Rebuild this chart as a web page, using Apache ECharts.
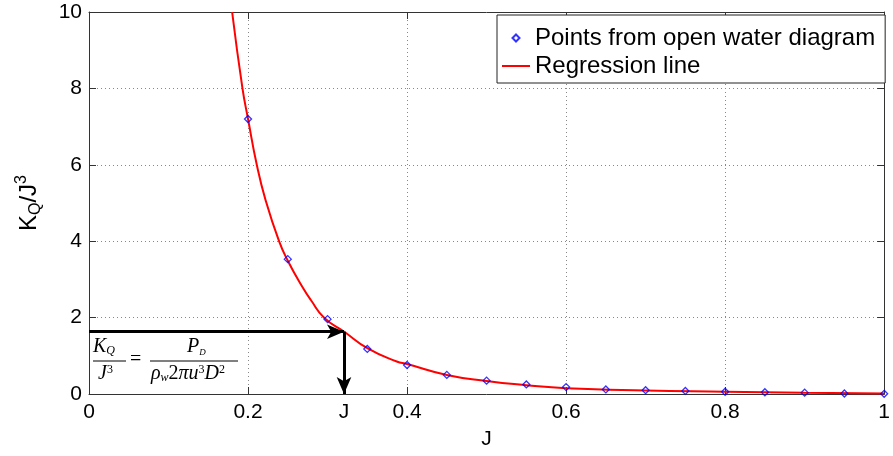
<!DOCTYPE html>
<html>
<head>
<meta charset="utf-8">
<script src="https://cdn.jsdelivr.net/npm/echarts@6/dist/echarts.min.js"></script>
<style>
html,body{margin:0;padding:0;background:#fff;}
#c{width:893px;height:456px;}
</style>
</head>
<body>
<div id="c"></div>
<script>
// ---- data ----
const jPoints = [0.20,0.25,0.30,0.35,0.40,0.45,0.50,0.55,0.60,0.65,0.70,0.75,0.80,0.85,0.90,0.95,1.00];
const kqPoints = [7.20,3.53,1.96,1.18,0.76,0.50,0.35,0.25,0.18,0.12,0.10,0.08,0.06,0.045,0.035,0.012,0.005];
const jLine = [0.180,0.193,0.200,0.211,0.222,0.239,0.250,0.269,0.279,0.296,0.321,0.350,0.387,0.400,0.450,0.500,0.550,0.600,0.700,0.800,0.900,1.000];
const kqLine = [10.0,8.0,7.2,6.0,5.08,4.0,3.49,2.78,2.46,1.99,1.63,1.20,0.85,0.785,0.50,0.34,0.23,0.15,0.09,0.06,0.03,0.01];
const arrowPoint = [0.3207, 1.63];
const xTicks = [0, 1, 0.2];   // min, max, interval
const yTicks = [0, 10, 2];
const seriesNames = ['Points from open water diagram', 'Regression line'];

const FONT = "'Liberation Sans', Arial, Helvetica, sans-serif";
const SERIF = "'Liberation Serif', 'DejaVu Serif', serif";

const chart = echarts.init(document.getElementById('c'), null, {renderer: 'canvas'});

const axisLineStyle = {color: '#333', width: 1};
const grid = {left: 89, right: 2, top: 12, bottom: 62, containLabel: false};

const option = {
  backgroundColor: '#fff',
  animation: false,
  grid: grid,
  legend: {
    data: [
      {name: seriesNames[0], icon: 'path://M0,-1L1,0L0,1L-1,0Z'},
      {name: seriesNames[1], icon: 'path://M0,0L28,0L28,2L0,2Z'}
    ],
    orient: 'vertical',
    left: 497,
    top: 15,
    itemWidth: 28,
    itemHeight: 7,
    itemGap: 0,
    symbolKeepAspect: true,
    padding: [9, 10, 3, 5],
    borderColor: '#222',
    borderWidth: 1,
    backgroundColor: '#fff',
    textStyle: {fontFamily: FONT, fontSize: 24, color: '#000', lineHeight: 28},
    selectedMode: false
  },
  xAxis: [{
    type: 'value', min: xTicks[0], max: xTicks[1], interval: xTicks[2],
    name: 'J', nameLocation: 'middle', nameGap: 35,
    nameTextStyle: {fontFamily: FONT, fontSize: 21, color: '#000'},
    axisLine: {show: true, lineStyle: axisLineStyle},
    axisTick: {show: true, inside: true, length: 7, lineStyle: axisLineStyle},
    axisLabel: {fontFamily: FONT, fontSize: 21, color: '#000', margin: 8, showMaxLabel: true},
    splitLine: {show: true, lineStyle: {color: '#888', type: [1, 3], width: 1}}
  }, {
    type: 'value', position: 'top', min: xTicks[0], max: xTicks[1], interval: xTicks[2],
    axisLine: {show: true, onZero: false, lineStyle: axisLineStyle},
    axisTick: {show: true, inside: true, length: 7, lineStyle: axisLineStyle},
    axisLabel: {show: false}, splitLine: {show: false}
  }],
  yAxis: [{
    type: 'value', min: yTicks[0], max: yTicks[1], interval: yTicks[2],
    name: '{b|K}{s|Q}{b|/J}{p|3}', nameLocation: 'middle', nameGap: 45, nameRotate: 90,
    nameTextStyle: {
      fontFamily: FONT, fontSize: 24, color: '#000',
      rich: {
        b: {fontFamily: FONT, fontSize: 24, lineHeight: 30, color: '#000', verticalAlign: 'middle'},
        s: {fontFamily: FONT, fontSize: 16, lineHeight: 16, color: '#000', verticalAlign: 'bottom'},
        p: {fontFamily: FONT, fontSize: 16, lineHeight: 16, color: '#000', verticalAlign: 'top'}
      }
    },
    axisLine: {show: true, onZero: false, lineStyle: axisLineStyle},
    axisTick: {show: true, inside: true, length: 7, lineStyle: axisLineStyle},
    axisLabel: {fontFamily: FONT, fontSize: 21, color: '#000', margin: 7},
    splitLine: {show: true, lineStyle: {color: '#888', type: [1, 3], width: 1}}
  }, {
    type: 'value', position: 'right', min: yTicks[0], max: yTicks[1], interval: yTicks[2],
    axisLine: {show: true, onZero: false, lineStyle: axisLineStyle},
    axisTick: {show: true, inside: true, length: 7, lineStyle: axisLineStyle},
    axisLabel: {show: false}, splitLine: {show: false}
  }],
  series: [{
    name: seriesNames[1],
    type: 'line',
    data: jLine.map((j, i) => [j, kqLine[i]]),
    smooth: 0.5,
    showSymbol: false,
    symbol: 'none',
    lineStyle: {color: '#ff0000', width: 2},
    itemStyle: {color: '#ff0000'},
    z: 2,
    markLine: {
      silent: true,
      symbol: ['none', 'arrow'],
      symbolSize: [11, 17],
      lineStyle: {color: '#000', width: 3, type: 'solid'},
      label: {show: false},
      emphasis: {disabled: true},
      data: [
        [{coord: [0, arrowPoint[1]]}, {coord: [arrowPoint[0], arrowPoint[1]]}],
        [{coord: [arrowPoint[0], arrowPoint[1]],
          label: {show: true, formatter: 'J', position: 'end', distance: 8,
                  fontFamily: FONT, fontSize: 21, color: '#000'}},
         {coord: [arrowPoint[0], 0]}]
      ]
    }
  }, {
    name: seriesNames[0],
    type: 'scatter',
    data: jPoints.map((j, i) => [j, kqPoints[i]]),
    symbol: 'diamond',
    symbolSize: 7,
    itemStyle: {color: 'rgba(255,255,255,0)', borderColor: '#0000ff', borderWidth: 1.3},
    z: 3
  }],
  graphic: [
    // formula annotation  K_Q / J^3 = P_D / (rho_w 2 pi u^3 D^2)
    {type: 'text', left: 93, top: 337, style: {
      text: '{i|K}{s|Q}',
      rich: {i: {fontFamily: SERIF, fontStyle: 'italic', fontSize: 20, lineHeight: 20, verticalAlign: 'middle'},
             s: {fontFamily: SERIF, fontStyle: 'italic', fontSize: 12, lineHeight: 12, verticalAlign: 'bottom'}},
      fill: '#000'}},
    {type: 'line', shape: {x1: 93, y1: 361, x2: 126, y2: 361}, style: {stroke: '#000', lineWidth: 1}},
    {type: 'text', left: 98, top: 364, style: {
      text: '{i|J}{p|3}',
      rich: {i: {fontFamily: SERIF, fontStyle: 'italic', fontSize: 20, lineHeight: 20, verticalAlign: 'middle'},
             p: {fontFamily: SERIF, fontSize: 12, lineHeight: 12, verticalAlign: 'top'}},
      fill: '#000'}},
    {type: 'text', left: 130, top: 350, style: {text: '=', font: '20px ' + SERIF, fill: '#000'}},
    {type: 'text', left: 187, top: 337, style: {
      text: '{i|P}{s|D}',
      rich: {i: {fontFamily: SERIF, fontStyle: 'italic', fontSize: 20, lineHeight: 20, verticalAlign: 'middle'},
             s: {fontFamily: SERIF, fontStyle: 'italic', fontSize: 9, lineHeight: 10, verticalAlign: 'bottom'}},
      fill: '#000'}},
    {type: 'line', shape: {x1: 150, y1: 361, x2: 238, y2: 361}, style: {stroke: '#000', lineWidth: 1}},
    {type: 'text', left: 151, top: 364, style: {
      text: '{i|ρ}{s|w}{n|2}{i|πu}{p|3}{i|D}{p|2}',
      rich: {i: {fontFamily: SERIF, fontStyle: 'italic', fontSize: 20, lineHeight: 20, verticalAlign: 'middle'},
             n: {fontFamily: SERIF, fontSize: 20, lineHeight: 20, verticalAlign: 'middle'},
             s: {fontFamily: SERIF, fontStyle: 'italic', fontSize: 12, lineHeight: 12, verticalAlign: 'bottom'},
             p: {fontFamily: SERIF, fontSize: 12, lineHeight: 12, verticalAlign: 'top'}},
      fill: '#000'}}
  ]
};
chart.setOption(option);
</script>
</body>
</html>
